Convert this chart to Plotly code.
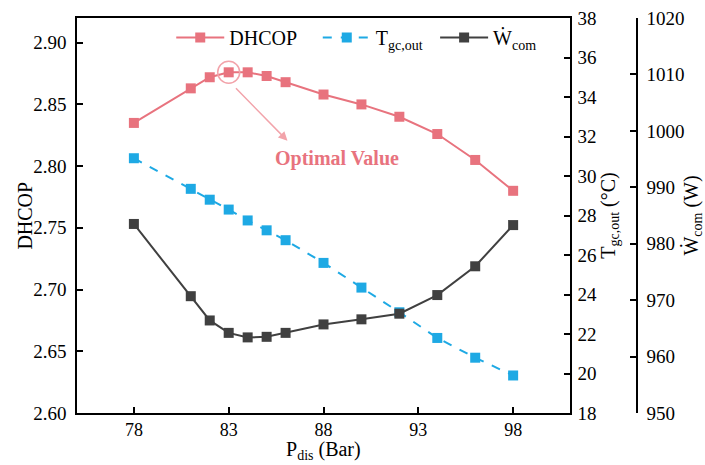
import plotly.graph_objects as go

pressure = [78, 81, 82, 83, 84, 85, 86, 88, 90, 92, 94, 96, 98]
dhcop = [2.835, 2.863, 2.872, 2.876, 2.876, 2.873, 2.868, 2.858, 2.850, 2.840, 2.826, 2.805, 2.780]
t_gc_out = [30.9, 29.35, 28.8, 28.3, 27.75, 27.25, 26.75, 25.6, 24.35, 23.1, 21.8, 20.8, 19.9]
w_com = [983.5, 970.7, 966.4, 964.2, 963.4, 963.5, 964.2, 965.7, 966.6, 967.6, 970.9, 976.0, 983.3]
x_ticks = [78, 83, 88, 93, 98]

RED = "#E8737E"
BLUE = "#1EA9E4"
DARK = "#404040"
FONT = "Times New Roman, Liberation Serif, serif"

fig = go.Figure()
fig.add_trace(go.Scatter(x=pressure, y=dhcop, name="DHCOP", mode="lines+markers",
                         line=dict(color=RED, width=2),
                         marker=dict(symbol="square", size=10, color=RED), yaxis="y",
                         legend="legend"))
fig.add_trace(go.Scatter(x=pressure, y=t_gc_out, name="T<sub>gc,out</sub>", mode="lines+markers",
                         line=dict(color=BLUE, width=2, dash="dash"),
                         marker=dict(symbol="square", size=10, color=BLUE), yaxis="y2",
                         legend="legend2"))
fig.add_trace(go.Scatter(x=pressure, y=w_com, name="Ẇ<sub>com</sub>", mode="lines+markers",
                         line=dict(color=DARK, width=2),
                         marker=dict(symbol="square", size=10, color=DARK), yaxis="y3",
                         legend="legend3"))

axis_common = dict(showline=True, linecolor="black", linewidth=1.5, ticks="inside",
                   ticklen=6, tickwidth=1.5, tickcolor="black", showgrid=False, zeroline=False)
tick_font = dict(family=FONT, size=19, color="black")
title_font = dict(family=FONT, size=20, color="black")
legend_common = dict(orientation="h", y=1.0, xanchor="left", yanchor="top", itemwidth=48,
                     bgcolor="rgba(0,0,0,0)", font=dict(family=FONT, size=20, color="black"))

fig.update_layout(
    width=705, height=465,
    margin=dict(l=77, r=20, t=18, b=52, autoexpand=False),
    paper_bgcolor="white", plot_bgcolor="white",
    font=dict(family=FONT, size=18, color="black"),
    showlegend=True,
    legend=dict(x=0.155, **legend_common),
    legend2=dict(x=0.396, **legend_common),
    legend3=dict(x=0.589, **legend_common),
    xaxis=dict(domain=[0, 0.8109], range=[75, 101], tickvals=x_ticks, mirror=True,
               ticklabelstandoff=0, tickfont=dict(family=FONT, size=18, color="black"),
               **axis_common),
    yaxis=dict(range=[2.6, 2.92], tickvals=[2.60, 2.65, 2.70, 2.75, 2.80, 2.85, 2.90],
               tickformat=".2f", mirror=True, ticklabelstandoff=5, tickfont=tick_font,
               **axis_common),
    yaxis2=dict(range=[18, 38], dtick=2, tick0=18, overlaying="y", side="right", anchor="x",
                ticklabelstandoff=2, tickfont=tick_font,
                title=dict(text="T<sub>gc,out</sub> (°C)", font=title_font, standoff=2),
                **axis_common),
    yaxis3=dict(range=[950, 1020], dtick=10, tick0=950, overlaying="y", side="right",
                anchor="free", position=0.9211, ticklabelstandoff=5, tickfont=tick_font,
                title=dict(text="Ẇ<sub>com</sub> (W)", font=title_font, standoff=0),
                **axis_common),
)

# axis titles placed as annotations for precise positioning
fig.add_annotation(x=88, y=-0.1295, xref="x", yref="paper", text="P<sub>dis</sub> (Bar)",
                   showarrow=False, xanchor="center", yanchor="bottom", font=title_font,
                   borderpad=0)
fig.add_annotation(x=-0.087, y=0.5, xref="paper", yref="paper", text="DHCOP", textangle=-90,
                   showarrow=False, xanchor="center", yanchor="middle", font=title_font)

fig.add_shape(type="circle", xref="x", yref="y", xsizemode="pixel", ysizemode="pixel",
              xanchor=83, yanchor=2.876, x0=-11, x1=11, y0=-11, y1=11,
              line=dict(color="#F2A3AA", width=1.5))
fig.add_annotation(x=86.1, y=2.8205, xref="x", yref="y", ax=-53, ay=-54, text="",
                   showarrow=True, arrowhead=2, arrowsize=1.2, arrowwidth=1.5, arrowcolor="#F2A3AA")
fig.add_annotation(x=88.7, y=2.806, xref="x", yref="y", text="<b>Optimal Value</b>",
                   showarrow=False, font=dict(family=FONT, size=20, color=RED))

fig.write_html("out.html")
